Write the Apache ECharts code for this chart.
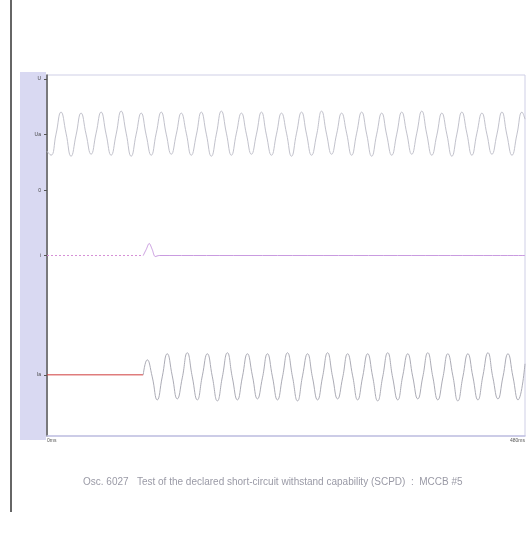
<!DOCTYPE html>
<html>
<head>
<meta charset="utf-8">
<script src="https://cdn.jsdelivr.net/npm/echarts@6/dist/echarts.min.js"></script>
<style>html,body{margin:0;padding:0;background:#fff;}#c{width:528px;height:537px;}</style>
</head>
<body>
<div id="c"></div>
<script>
// Channel 1 (voltage) – sample times (ms) and values
var topTimes = [0,4,9,14,19,24,29,34,39,44,49,54,59,64,69,74,79,84,89,94,99,104,109,114,119,124,129,134,139,144,149,154,159,164,169,174,179,184,189,194,199,204,209,214,219,224,229,234,239,244,249,254,259,264,269,274,279,284,289,294,299,304,309,314,319,324,329,334,339,344,349,354,359,364,369,374,379,384,389,394,399,404,409,414,419,424,429,434,439,444,449,454,459,464,469,474,477];
var topValues = [284,
280,301,323,302, 279,300,322,301, 281,302,323,301, 280,301,324,302,
279,301,322,300, 280,302,323,301, 281,301,322,302, 280,300,323,301,
279,301,324,302, 280,302,322,301, 281,301,323,300, 280,301,322,302,
279,302,323,301, 280,300,324,301, 281,301,322,302, 280,302,323,301,
279,301,322,300, 280,301,323,302, 281,302,324,301, 280,300,322,301,
279,301,323,302, 280,302,322,301, 281,301,323,300, 280,301,323,
316];

// Channel 2 (trigger) – dashed before, solid after
var midBeforeTimes = [0,96];
var midBeforeValues = [180,180];
var midAfterTimes = [96,99,102,105,108,112,477];
var midAfterValues = [180,186,192,186,179,180,180];

// Channel 3 (current) – red baseline then wave
var lowFlatTimes = [0,96];
var lowFlatValues = [61,61];
var lowTimes = [96,100,105,110,115,120,125,130,135,140,145,150,155,160,165,170,175,180,185,190,195,200,205,210,215,220,225,230,235,240,245,250,255,260,265,270,275,280,285,290,295,300,305,310,315,320,325,330,335,340,345,350,355,360,365,370,375,380,385,390,395,400,405,410,415,420,425,430,435,440,445,450,455,460,465,470,477];
var lowValues = [61,76,59,
36,59,82,60, 37,58,83,59, 36,60,82,59, 35,59,83,58,
36,59,82,60, 37,58,82,59, 36,59,83,59, 35,60,82,58,
36,59,83,59, 37,58,82,60, 36,59,82,59, 35,59,83,58,
36,60,82,59, 37,59,83,59, 36,58,82,60, 35,59,82,59,
36,60,83,58, 37,59,82,59,
36,72];

// Axis tick labels
var yTickValues = [356,301,245,180,61];
var yTickLabels = ['U','Ua','0','i','Ia'];
var xTickValues = [0,477];
var xTickLabels = ['0ms','480ms'];
var caption = 'Osc. 6027   Test of the declared short-circuit withstand capability (SCPD)  :  MCCB #5';

function pairs(t, v){ var out=[]; for(var i=0;i<t.length;i++){ out.push([t[i], v[i]]); } return out; }

var chart = echarts.init(document.getElementById('c'), null, {renderer:'canvas'});
chart.setOption({
  animation:false,
  backgroundColor:'#ffffff',
  title:{
    text: caption, left: 78, top: 472,
    textStyle:{fontSize:10, fontWeight:'normal', color:'#9a9aa6', fontFamily:'Liberation Sans'}
  },
  graphic:[
    {type:'line', z:-5, shape:{x1:11,y1:0,x2:11,y2:512}, style:{stroke:'#333', lineWidth:1.5}},
    {type:'rect', z:-10, shape:{x:20,y:72,width:26,height:368}, style:{fill:'#d9d9f2'}}
  ],
  grid:{left:47, right:3, top:75, bottom:101, show:true, borderColor:'#cfcfe6', borderWidth:1, outerBoundsMode:'none', containLabel:false},
  xAxis:{
    type:'value', min:0, max:477,
    axisLine:{show:true, lineStyle:{color:'#c4c4e4', width:1.5}},
    axisTick:{show:false},
    splitLine:{show:false},
    axisLabel:{customValues:xTickValues, alignMinLabel:'left', alignMaxLabel:'right', formatter:function(v){ var i=xTickValues.indexOf(v); return i>=0?xTickLabels[i]:''; }, fontSize:5, color:'#555', margin:2}
  },
  yAxis:{
    type:'value', min:0, max:360,
    axisLine:{show:true, lineStyle:{color:'#555', width:1.5}},
    axisTick:{show:true, customValues:yTickValues, length:3, lineStyle:{color:'#555'}},
    splitLine:{show:false},
    axisLabel:{customValues:yTickValues, formatter:function(v){ var i=yTickValues.indexOf(v); return i>=0?yTickLabels[i]:''; }, fontSize:5, color:'#444', margin:6}
  },
  series:[
    {type:'line', data:pairs(topTimes, topValues), smooth:0.5, symbol:'none', lineStyle:{color:'#c2c2cc', width:1}},
    {type:'line', data:pairs(midBeforeTimes, midBeforeValues), symbol:'none', lineStyle:{color:'#d690d6', width:1, type:[2,2]}},
    {type:'line', data:pairs(midAfterTimes, midAfterValues), smooth:0.3, symbol:'none', lineStyle:{color:'#c99be0', width:1}},
    {type:'line', data:pairs(lowFlatTimes, lowFlatValues), symbol:'none', lineStyle:{color:'#d03c3c', width:1}},
    {type:'line', data:pairs(lowTimes, lowValues), smooth:0.5, symbol:'none', lineStyle:{color:'#acacb6', width:1}}
  ]
});
</script>
</body>
</html>
